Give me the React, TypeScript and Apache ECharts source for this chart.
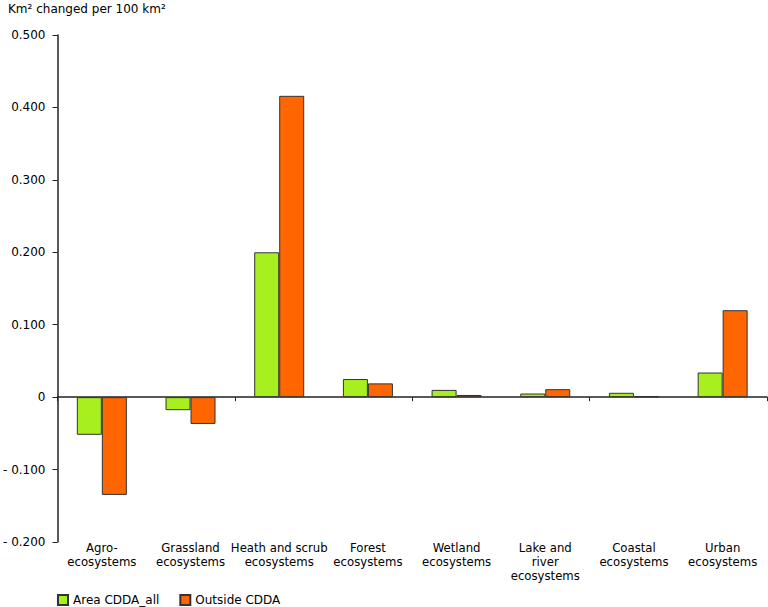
import { useEffect, useRef } from 'react';
import * as echarts from 'echarts';

const categories = [
  'Agro-\necosystems',
  'Grassland\necosystems',
  'Heath and scrub\necosystems',
  'Forest\necosystems',
  'Wetland\necosystems',
  'Lake and\nriver\necosystems',
  'Coastal\necosystems',
  'Urban\necosystems',
];
const areaCdda = [-0.052, -0.018, 0.2, 0.025, 0.01, 0.005, 0.006, 0.034];
const outsideCdda = [-0.135, -0.037, 0.416, 0.019, 0.003, 0.011, 0.001, 0.12];
const seriesNames = ['Area CDDA_all', 'Outside CDDA'];

const FONT = '"DejaVu Sans", Verdana, sans-serif';

const App = () => {
  const chartDom = useRef<HTMLDivElement>(null);

  useEffect(() => {
    const chart = echarts.init(chartDom.current, null, { renderer: 'svg' });
    const barStyle = (color: string) => ({
      color,
      borderColor: '#333',
      borderWidth: 1,
    });
    chart.setOption({
      animation: false,
      textStyle: { fontFamily: FONT, color: '#000' },
      title: {
        text: 'Km² changed per 100 km²',
        left: 8,
        top: 3,
        padding: 0,
        textStyle: { fontFamily: FONT, fontSize: 12, fontWeight: 'normal', color: '#000' },
      },
      legend: {
        left: 57,
        top: 594,
        padding: 0,
        itemWidth: 10,
        itemHeight: 10,
        itemGap: 20,
        icon: 'rect',
        textStyle: { fontFamily: FONT, fontSize: 12, color: '#000' },
        data: seriesNames,
      },
      grid: { left: 57, right: 1, top: 35, bottom: 65, containLabel: false },
      xAxis: [
        {
          type: 'category',
          data: categories,
          position: 'bottom',
          axisLine: { onZero: true, lineStyle: { color: '#222', width: 1.5 } },
          axisTick: { show: true, length: 4, lineStyle: { color: '#222' } },
          axisLabel: { show: false },
        },
        {
          type: 'category',
          data: categories,
          position: 'bottom',
          axisLine: { show: false, onZero: false },
          axisTick: { show: false },
          axisLabel: {
            show: true,
            interval: 0,
            margin: -1,
            fontFamily: FONT,
            fontSize: 11.7,
            lineHeight: 14,
            color: '#000',
            align: 'center',
          },
        },
      ],
      yAxis: {
        type: 'value',
        min: -0.2,
        max: 0.5,
        interval: 0.1,
        axisLine: { show: true, lineStyle: { color: '#222', width: 1.5 } },
        axisTick: { show: true, length: 5, lineStyle: { color: '#222' } },
        splitLine: { show: false },
        axisLabel: {
          margin: 12,
          fontFamily: FONT,
          fontSize: 12,
          color: '#000',
          formatter: (v: number) => {
            if (Math.abs(v) < 1e-9) return '0';
            if (v < 0) return '- ' + Math.abs(v).toFixed(3);
            return v.toFixed(3);
          },
        },
      },
      series: [
        {
          name: seriesNames[0],
          type: 'bar',
          data: areaCdda,
          barWidth: 25,
          barGap: '0%',
          itemStyle: barStyle('#a8ef1f'),
        },
        {
          name: seriesNames[1],
          type: 'bar',
          data: outsideCdda,
          barWidth: 25,
          barGap: '0%',
          itemStyle: barStyle('#ff6600'),
        },
      ],
    });
    return () => {
      chart.dispose();
    };
  }, []);

  return (
    <div
      ref={chartDom}
      style={{ position: 'fixed', left: 0, top: 0, width: 768, height: 607, background: '#fff' }}
    />
  );
};

export default App;
